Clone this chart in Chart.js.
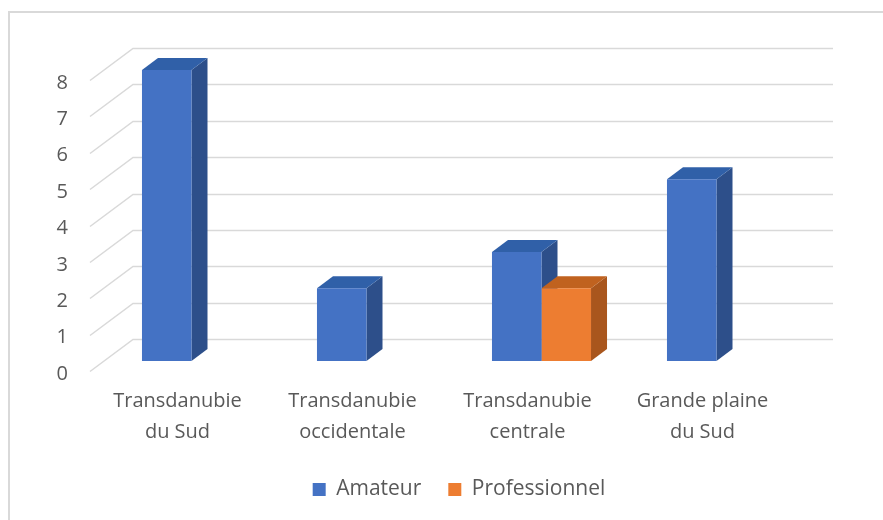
<!DOCTYPE html>
<html>
<head>
<meta charset="utf-8">
<script src="https://cdn.jsdelivr.net/npm/chart.js@4/dist/chart.umd.min.js"></script>
<style>
  html, body { margin: 0; padding: 0; background: #fff; }
  #wrap { width: 883px; height: 520px; position: relative; }
</style>
</head>
<body>
<div id="wrap"><canvas id="chart" width="883" height="520"></canvas></div>
<script>
'use strict';

// données
const categories = [['Transdanubie', 'du Sud'], ['Transdanubie', 'occidentale'], ['Transdanubie', 'centrale'], ['Grande plaine', 'du Sud']];
const amateur = [8, 2, 3, 5];
const professionnel = [null, null, 2, null];
const yTicks = [0, 1, 2, 3, 4, 5, 6, 7, 8];

const FONT = "'Open Sans', 'Noto Sans', sans-serif";
const TXT = '#595959';

// 3D : profondeur des barres et du mur du fond
const DEPTH = { dx: 16, dy: -12 };
const WALL = { backDx: 29, backDy: -22, frontDx: -14, frontDy: 10 };

const faces = {
  0: { side: '#2d4f8a', top: '#3060a8' },
  1: { side: '#a9561d', top: '#c0621f' }
};

const frame = {
  id: 'frame',
  beforeDraw(chart) {
    const c = chart.ctx;
    c.save();
    c.fillStyle = '#fff';
    c.fillRect(0, 0, chart.width, chart.height);
    c.strokeStyle = '#d9d9d9';
    c.lineWidth = 2;
    c.strokeRect(9, 12, 900, 600);
    c.restore();
  }
};

// mur du fond + lignes diagonales
const wall = {
  id: 'wall',
  beforeDatasetsDraw(chart) {
    const { ctx: c, chartArea: a, scales: { y } } = chart;
    c.save();
    c.strokeStyle = '#d9d9d9';
    c.lineWidth = 1.5;
    yTicks.forEach(v => {
      const yp = Math.round(y.getPixelForValue(v)) + 0.5;
      c.beginPath();
      c.moveTo(a.left + WALL.frontDx, yp + WALL.frontDy);
      c.lineTo(a.left + WALL.backDx, yp + WALL.backDy);
      c.lineTo(a.right + WALL.backDx, yp + WALL.backDy);
      c.stroke();
    });
    c.restore();
  }
};

// côtés et dessus des barres
const bars3d = {
  id: 'bars3d',
  beforeDatasetsDraw(chart) {
    const c = chart.ctx;
    c.save();
    chart.data.datasets.forEach((ds, di) => {
      const meta = chart.getDatasetMeta(di);
      meta.data.forEach((bar, i) => {
        if (ds.data[i] == null) return;
        const p = bar.getProps(['x', 'y', 'base', 'width'], true);
        const l = p.x - p.width / 2, r = p.x + p.width / 2, t = p.y, b = p.base;
        c.fillStyle = faces[di].side;
        c.beginPath();
        c.moveTo(r, t); c.lineTo(r + DEPTH.dx, t + DEPTH.dy);
        c.lineTo(r + DEPTH.dx, b + DEPTH.dy); c.lineTo(r, b);
        c.closePath(); c.fill();
        c.fillStyle = faces[di].top;
        c.beginPath();
        c.moveTo(l, t); c.lineTo(l + DEPTH.dx, t + DEPTH.dy);
        c.lineTo(r + DEPTH.dx, t + DEPTH.dy); c.lineTo(r, t);
        c.closePath(); c.fill();
      });
    });
    c.restore();
  }
};

// décale la légende vers la droite (centrée sous le graphique 3D)
const legendShift = {
  id: 'legendShift',
  afterLayout(chart) {
    const lg = chart.legend;
    if (!lg) return;
    lg.left += 57;
    lg.right += 57;
  }
};

new Chart(document.getElementById('chart'), {
  type: 'bar',
  data: {
    labels: categories,
    datasets: [
      { label: 'Amateur', data: amateur, backgroundColor: '#4472c4' },
      { label: 'Professionnel', data: professionnel, backgroundColor: '#ed7d31' }
    ]
  },
  options: {
    responsive: false,
    animation: false,
    categoryPercentage: 0.566,
    barPercentage: 1,
    layout: { padding: { left: 0, right: 79, top: 70, bottom: 10 } },
    scales: {
      x: {
        afterFit: s => { s.height = 91; },
        grid: { display: false, drawTicks: false },
        border: { display: false },
        ticks: {
          color: TXT,
          font: { family: FONT, size: 20, lineHeight: 1.55 },
          labelOffset: -14,
          padding: 25,
          maxRotation: 0
        }
      },
      y: {
        min: 0, max: 8,
        afterBuildTicks: s => { s.ticks = yTicks.map(v => ({ value: v })); },
        afterFit: s => { s.width = 104; },
        grid: { display: false, drawTicks: false },
        border: { display: false },
        ticks: {
          color: TXT,
          font: { family: FONT, size: 20 },
          labelOffset: 13,
          padding: 36
        }
      }
    },
    plugins: {
      legend: {
        position: 'bottom',
        labels: {
          color: TXT,
          font: { family: FONT, size: 21 },
          boxWidth: 13, boxHeight: 13,
          padding: 27
        }
      },
      tooltip: { enabled: false }
    }
  },
  plugins: [frame, wall, bars3d, legendShift]
});
</script>
</body>
</html>
